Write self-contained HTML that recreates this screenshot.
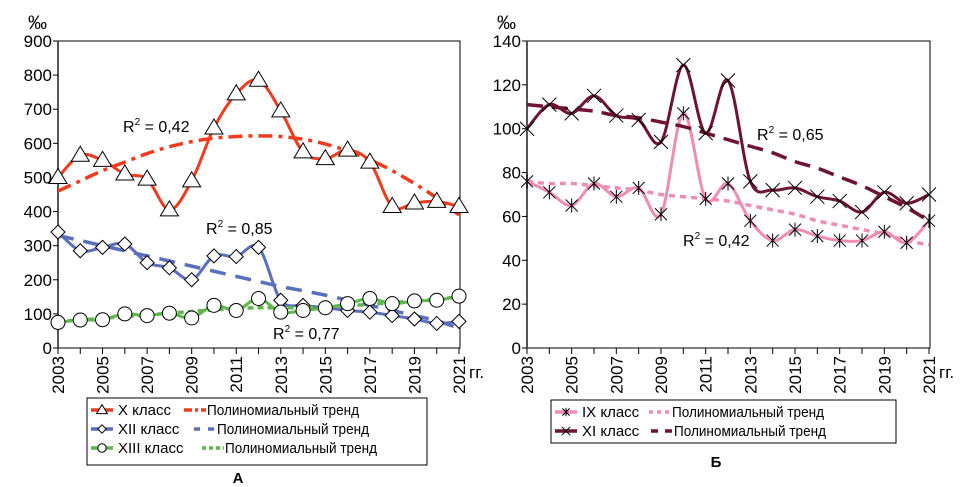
<!DOCTYPE html>
<html><head><meta charset="utf-8">
<style>
body{margin:0;background:#fff;font-family:"Liberation Sans",Arial,sans-serif;}
svg{display:block}
text{font-family:"Liberation Sans",Arial,sans-serif;fill:#000}
</style></head>
<body>
<svg id="root" width="975" height="487" viewBox="0 0 975 487"></svg>
<script>
const years=[2003,2004,2005,2006,2007,2008,2009,2010,2011,2012,2013,2014,2015,2016,2017,2018,2019,2020,2021];
const yearLabels=["2003","2005","2007","2009","2011","2013","2015","2017","2019","2021"];
const leftTicks=[0,100,200,300,400,500,600,700,800,900];
const rightTicks=[0,20,40,60,80,100,120,140];
const classX=[500,565,550,510,495,405,490,645,745,785,695,575,555,580,545,415,425,430,415];
const trendX=[460,490,520,545,570,590,605,615,620,622,620,612,598,578,552,520,482,440,390];
const classXII=[340,285,295,305,250,235,200,270,268,295,140,125,118,110,105,95,85,72,78];
const trendXII=[330,315,300,285,270,255,240,225,210,195,180,168,155,140,125,110,95,80,58];
const classXIII=[75,82,83,100,95,102,88,125,110,145,105,110,118,130,145,130,138,140,152];
const trendXIII=[78,82,87,92,97,102,107,112,116,118,118,118,120,124,128,133,138,143,150];
const classIX=[76,71,65,75,69,73,61,107,68,75,58,49,54,51,49,49,53,48,58];
const trendIX=[76,75,75,74,73,72,70,69,68,67,65,63,61,58,56,54,52,49,47];
const classXI=[100,111,107,115,106,104,94,129,98,122,76,72,73,69,67,62,71,66,70];
const trendXI=[111,110,109,108,106,105,103,101,98,95,92,89,85,82,78,74,69,64,58];

const NS="http://www.w3.org/2000/svg";
const root=document.getElementById('root');
function mk(tag,attrs,parent){const e=document.createElementNS(NS,tag);for(const k in attrs)e.setAttribute(k,attrs[k]);(parent||root).appendChild(e);return e;}
function smooth(pts){let d="M"+pts[0][0]+","+pts[0][1];for(let i=0;i<pts.length-1;i++){const p0=pts[Math.max(0,i-1)],p1=pts[i],p2=pts[i+1],p3=pts[Math.min(pts.length-1,i+2)];const c1=[p1[0]+(p2[0]-p0[0])/6,p1[1]+(p2[1]-p0[1])/6],c2=[p2[0]-(p3[0]-p1[0])/6,p2[1]-(p3[1]-p1[1])/6];d+=" C"+c1[0]+","+c1[1]+" "+c2[0]+","+c2[1]+" "+p2[0]+","+p2[1];}return d;}

function marker(g,type,x,y,s){
  s=s||1;
  let e;
  if(type==='tri'){e=mk('polygon',{points:`${x},${y-9*s} ${x-9*s},${y+6*s} ${x+9*s},${y+6*s}`,fill:'#fff',stroke:'#000','stroke-width':1},g);}
  else if(type==='dia'){e=mk('polygon',{points:`${x},${y-7*s} ${x+7*s},${y} ${x},${y+7*s} ${x-7*s},${y}`,fill:'#fff',stroke:'#000','stroke-width':1},g);}
  else if(type==='circ'){e=mk('circle',{cx:x,cy:y,r:7*s,fill:'#fff',stroke:'#000','stroke-width':1},g);}
  else if(type==='star'){e=mk('path',{d:`M${x-6*s},${y-6*s}L${x+6*s},${y+6*s}M${x+6*s},${y-6*s}L${x-6*s},${y+6*s}M${x},${y-7*s}L${x},${y+7*s}`,stroke:'#000','stroke-width':1,fill:'none'},g);}
  else {e=mk('path',{d:`M${x-7*s},${y-7*s}L${x+7*s},${y+7*s}M${x+7*s},${y-7*s}L${x-7*s},${y+7*s}`,stroke:'#000','stroke-width':1,fill:'none'},g);}
  
  
}

function chart(opt){
  const g=mk('g',{});
  
  
  const X0=opt.x0,X1=opt.x1,Y0=348,Y1=41;
  const xs=i=>X0+(X1-X0)*(years[i]-years[0])/(years[years.length-1]-years[0]);
  const ys=v=>Y0-(Y0-Y1)*v/opt.max;
  const frame=mk('rect',{x:X0,y:Y1,width:X1-X0+1,height:Y0-Y1,fill:'none',stroke:'#000','stroke-width':1},g);
  
  const yax=mk('line',{x1:X0,y1:Y1,x2:X0,y2:Y0,stroke:'#555','stroke-width':2},g);
  
  opt.ticks.forEach(t=>{
    mk('line',{x1:X0-5,x2:X0,y1:ys(t),y2:ys(t),stroke:'#000'},g);
    const tx=mk('text',{x:X0-6,y:ys(t)+6,'text-anchor':'end','font-size':17},g);tx.textContent=t;
    
  });
  years.forEach((y,i)=>{mk('line',{x1:xs(i),x2:xs(i),y1:Y0,y2:Y0+6,stroke:'#000'},g);});
  yearLabels.forEach(l=>{
    const i=years.indexOf(+l);
    const tx=mk('text',{transform:`translate(${xs(i)+6},${Y0+8}) rotate(-90)`,'text-anchor':'end','font-size':17},g);tx.textContent=l;
    
  });
  const u=mk('text',{x:X0-30,y:29,'font-size':19},g);u.textContent='‰';
  
  const gg=mk('text',{x:X1+10,y:378,'font-size':17},g);gg.textContent='гг.';
  
  opt.series.forEach(s=>{
    const tp=s.trend.map((v,i)=>[xs(i),ys(v)]);
    const tl=mk('path',{d:smooth(tp),fill:'none',stroke:s.color,'stroke-width':3.5,'stroke-dasharray':s.dash},g);
    
    const pts=s.vals.map((v,i)=>[xs(i),ys(v)]);
    const l=mk('path',{d:smooth(pts),fill:'none',stroke:s.color,'stroke-width':3},g);
    
    pts.forEach(p=>marker(g,s.marker,p[0],p[1]));
  });
  opt.r2.forEach(r=>{
    const t=mk('text',{x:r[0],y:r[1],'font-size':16},g);
    t.innerHTML='R<tspan dy="-7" font-size="10">2</tspan><tspan dy="7"> = '+r[2]+'</tspan>';
    
  });
}

chart({name:'chart-a',x0:58,x1:459,max:900,ticks:leftTicks,
  series:[
    {key:'class-x',vals:classX,trend:trendX,color:'#f03c1e',dash:'14 6 4 6',marker:'tri'},
    {key:'class-xii',vals:classXII,trend:trendXII,color:'#5a6ebe',dash:'16 10',marker:'dia'},
    {key:'class-xiii',vals:classXIII,trend:trendXIII,color:'#5cb848',dash:'6 4',marker:'circ'}],
  r2:[[123,132,'0,42'],[206,234,'0,85'],[273,339,'0,77']]});
chart({name:'chart-b',x0:527,x1:929,max:140,ticks:rightTicks,
  series:[
    {key:'class-ix',vals:classIX,trend:trendIX,color:'#f08cb4',dash:'6 5',marker:'star'},
    {key:'class-xi',vals:classXI,trend:trendXI,color:'#6e1432',dash:'16 9',marker:'x'}],
  r2:[[757,140,'0,65'],[683,246,'0,42']]});

function legend(name,x,y,w,h,rows){
  const g=mk('g',{});
  
  mk('rect',{x:x,y:y,width:w,height:h,fill:'#fff',stroke:'#000'},g);
  rows.forEach((r,i)=>{
    const cy=y+12+i*19;
    const e=mk('g',{},g);
    
    mk('line',{x1:x+4,x2:x+26,y1:cy,y2:cy,stroke:r.color,'stroke-width':3.5},e);
    marker(e,r.marker,x+15,cy,0.6);
    const t=mk('text',{x:x+31,y:cy+5,'font-size':15},e);t.textContent=r.label;
    mk('line',{x1:x+r.tx,x2:x+r.tx+22,y1:cy,y2:cy,stroke:r.color,'stroke-width':3.5,'stroke-dasharray':r.dash},e);
    const t2=mk('text',{x:x+r.tx+23,y:cy+5,'font-size':15,textLength:152,lengthAdjust:'spacingAndGlyphs'},e);t2.textContent='Полиномиальный тренд';
  });
}
legend('legend-a',87,398,340,67,[
  {label:'X класс',color:'#f03c1e',marker:'tri',dash:'8 3 3 3',tx:97},
  {label:'XII класс',color:'#5a6ebe',marker:'dia',dash:'6 8',tx:107},
  {label:'XIII класс',color:'#5cb848',marker:'circ',dash:'4 3',tx:115}]);
legend('legend-b',551,400,345,43,[
  {label:'IX класс',color:'#f08cb4',marker:'star',dash:'4 4',tx:98},
  {label:'XI класс',color:'#6e1432',marker:'x',dash:'7 7',tx:100}]);
const la=mk('text',{x:238,y:483,'font-size':15,'font-weight':'bold','text-anchor':'middle'});la.textContent='А';

const lb=mk('text',{x:716,y:467,'font-size':15,'font-weight':'bold','text-anchor':'middle'});lb.textContent='Б';

</script>
</body></html>
